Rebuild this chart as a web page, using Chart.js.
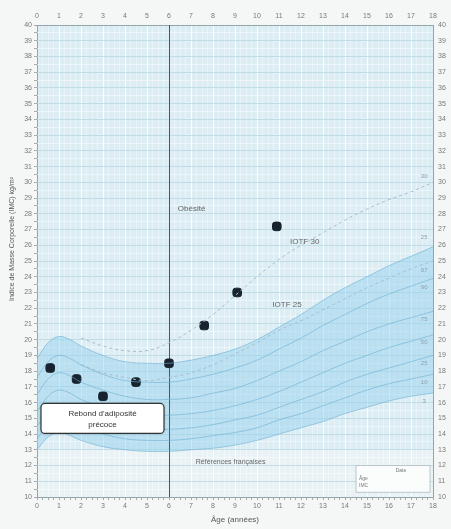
<!DOCTYPE html>
<html>
<head>
<meta charset="utf-8">
<script src="https://cdn.jsdelivr.net/npm/chart.js@4"></script>
<style>
  body { margin: 0; background: #f5f7f7; }
  #wrap { width: 451px; height: 529px; }
</style>
</head>
<body>
<div id="wrap"><canvas id="myChart" width="451" height="529"></canvas></div>
<script>
// reference curves (BMI by age)
const ages = [0, 0.5, 1, 1.5, 2, 3, 4, 5, 6, 7, 8, 9, 10, 11, 12, 13, 14, 15, 16, 17, 18];
const p97 = [18.8, 19.8, 20.2, 20.0, 19.6, 19.0, 18.6, 18.5, 18.5, 18.7, 19.0, 19.4, 20.0, 20.8, 21.6, 22.5, 23.3, 24.0, 24.7, 25.3, 25.9];
const p90 = [17.6, 18.6, 19.0, 18.8, 18.4, 17.8, 17.4, 17.3, 17.3, 17.5, 17.8, 18.2, 18.7, 19.4, 20.1, 20.9, 21.6, 22.3, 22.9, 23.4, 23.9];
const p75 = [16.5, 17.5, 17.9, 17.7, 17.3, 16.8, 16.4, 16.2, 16.2, 16.3, 16.6, 16.9, 17.4, 18.0, 18.6, 19.3, 19.9, 20.5, 21.0, 21.4, 21.8];
const p50 = [15.4, 16.4, 16.8, 16.6, 16.2, 15.7, 15.4, 15.2, 15.2, 15.3, 15.5, 15.8, 16.2, 16.7, 17.3, 17.9, 18.5, 19.0, 19.5, 19.9, 20.3];
const p25 = [14.5, 15.4, 15.8, 15.6, 15.2, 14.8, 14.5, 14.3, 14.3, 14.4, 14.6, 14.9, 15.2, 15.7, 16.2, 16.7, 17.3, 17.8, 18.2, 18.6, 19.0];
const p10 = [13.7, 14.6, 14.9, 14.7, 14.4, 14.0, 13.7, 13.6, 13.6, 13.7, 13.9, 14.1, 14.4, 14.9, 15.3, 15.8, 16.3, 16.8, 17.2, 17.5, 17.8];
const p3  = [13.0, 13.8, 14.1, 13.9, 13.6, 13.2, 13.0, 12.9, 12.9, 13.0, 13.1, 13.3, 13.6, 14.0, 14.4, 14.8, 15.3, 15.7, 16.1, 16.4, 16.6];

// IOTF cut-offs
const iotfAges = [2, 3, 4, 5, 6, 7, 8, 9, 10, 11, 12, 13, 14, 15, 16, 17, 18];
const iotf30 = [20.1, 19.6, 19.3, 19.3, 19.8, 20.6, 21.6, 22.8, 24.0, 25.1, 26.0, 26.8, 27.6, 28.3, 28.9, 29.4, 30.0];
const iotf25 = [18.4, 17.9, 17.6, 17.4, 17.6, 17.9, 18.4, 19.1, 19.8, 20.6, 21.2, 21.9, 22.6, 23.3, 23.9, 24.5, 25.0];

// child's measurements
const childAges = [0.6, 1.8, 3.0, 4.5, 6.0, 7.6, 9.1, 10.9];
const childBmi = [18.2, 17.5, 16.4, 17.3, 18.5, 20.9, 23.0, 27.2];

const pts = (xs, ys) => xs.map((x, i) => ({ x: x, y: ys[i] }));

const curveLine = (data, extra) => Object.assign({
  data: data,
  borderColor: "rgba(110,175,210,0.6)",
  borderWidth: 1,
  pointRadius: 0,
  tension: 0.4,
  fill: false,
}, extra || {});

const data = {
  datasets: [
    curveLine(pts(ages, p3)),
    curveLine(pts(ages, p10)),
    curveLine(pts(ages, p25)),
    curveLine(pts(ages, p50)),
    curveLine(pts(ages, p75)),
    curveLine(pts(ages, p90)),
    curveLine(pts(ages, p97), { fill: 0, backgroundColor: "rgba(150,210,238,0.5)" }),
    curveLine(pts(iotfAges, iotf25), { borderColor: "#a9bec8", borderDash: [3, 3] }),
    curveLine(pts(iotfAges, iotf30), { borderColor: "#a9bec8", borderDash: [3, 3] }),
    {
      data: pts(childAges, childBmi),
      showLine: false,
      pointStyle: "rectRounded",
      pointRadius: 5,
      pointBackgroundColor: "#17232f",
      pointBorderColor: "#17232f",
    },
  ],
};

const tickFont = { family: "Liberation Sans", size: 7 };
const intLabel = (v) => (Number.isInteger(v) ? String(v) : "");
const gridColX = (ctx) => {
  const v = ctx.tick.value;
  if (v === 0 || v === 18) return "#93a5ad";
  return Number.isInteger(v) ? "rgba(255,255,255,0.95)" : "rgba(255,255,255,0.4)";
};
const gridColY = (ctx) => {
  const v = ctx.tick.value;
  if (v === 10 || v === 40) return "#93a5ad";
  return Number.isInteger(v) ? "rgba(185,215,228,0.8)" : "rgba(255,255,255,0.45)";
};

// plugin - background, labels, notes
const decor = {
  id: "decor",
  beforeDraw(chart) {
    const { ctx, chartArea: a } = chart;
    ctx.save();
    ctx.fillStyle = "#f5f7f7";
    ctx.fillRect(0, 0, chart.width, chart.height);
    ctx.fillStyle = "#dcedf4";
    ctx.fillRect(a.left, a.top, a.right - a.left, a.bottom - a.top);
    const ys = chart.scales.y;
    ctx.fillStyle = "#e9f3f5";
    ctx.fillRect(a.left, ys.getPixelForValue(13), a.right - a.left, a.bottom - ys.getPixelForValue(13));
    ctx.restore();
  },
  beforeDatasetsDraw(chart) {
    // dark marker line at 6 years
    const { ctx, chartArea: a } = chart;
    const x6 = Math.round(chart.scales.x.getPixelForValue(6)) + 0.5;
    ctx.save();
    ctx.strokeStyle = "#555";
    ctx.lineWidth = 1;
    ctx.beginPath();
    ctx.moveTo(x6, a.top);
    ctx.lineTo(x6, a.bottom);
    ctx.stroke();
    ctx.restore();
  },
  afterDraw(chart) {
    const { ctx, chartArea: a, scales } = chart;
    const X = (v) => scales.x.getPixelForValue(v);
    const Y = (v) => scales.y.getPixelForValue(v);
    ctx.save();
    ctx.font = "8px Liberation Sans";
    ctx.fillStyle = "#666";
    ctx.textAlign = "left";
    ctx.textBaseline = "middle";
    ctx.fillText("Obésité", X(6.4), Y(28.3));
    ctx.fillText("IOTF 30", X(11.5), Y(26.2));
    ctx.fillText("IOTF 25", X(10.7), Y(22.2));
    ctx.textAlign = "center";
    ctx.font = "7px Liberation Sans";
    ctx.fillText("Références françaises", X(8.8), Y(12.2));

    // percentile labels at the right end
    ctx.font = "6px Liberation Sans";
    ctx.fillStyle = "#8aa0ab";
    [["30", 30.4], ["25", 26.5], ["97", 24.4], ["90", 23.3], ["75", 21.3], ["50", 19.8], ["25", 18.5], ["10", 17.3], ["3", 16.1]]
      .forEach(([t, v]) => ctx.fillText(t, X(17.6), Y(v)));

    // note box
    const bx = 41, by = Y(15.95), bw = 123, bh = 30;
    ctx.shadowColor = "rgba(0,0,0,0.25)";
    ctx.shadowBlur = 3;
    ctx.fillStyle = "#fff";
    ctx.beginPath();
    ctx.roundRect(bx, by, bw, bh, 4);
    ctx.fill();
    ctx.shadowBlur = 0;
    ctx.strokeStyle = "#333";
    ctx.lineWidth = 1.2;
    ctx.stroke();
    ctx.fillStyle = "#333";
    ctx.font = "8px Liberation Sans";
    ctx.fillText("Rebond d'adiposité", bx + bw / 2, by + 10);
    ctx.fillText("précoce", bx + bw / 2, by + 21);

    // small table bottom right
    const tx = X(14.5), ty = Y(12.0), tw = X(18) - 3 - tx, th = Y(10.3) - ty;
    ctx.fillStyle = "#fbfdfd";
    ctx.fillRect(tx, ty, tw, th);
    ctx.strokeStyle = "#b9c6cc";
    ctx.lineWidth = 1;
    ctx.strokeRect(tx, ty, tw, th);
    ctx.fillStyle = "#777";
    ctx.font = "5px Liberation Sans";
    ctx.fillText("Date", tx + tw / 2 + 8, ty + 5);
    ctx.textAlign = "left";
    ctx.fillText("Âge", tx + 3, ty + 13);
    ctx.fillText("IMC", tx + 3, ty + 20);

    // axis titles
    ctx.fillStyle = "#555";
    ctx.textAlign = "center";
    ctx.font = "8px Liberation Sans";
    ctx.fillText("Âge (années)", X(9), chart.height - 9);
    ctx.translate(12, (a.top + a.bottom) / 2 - 22);
    ctx.rotate(-Math.PI / 2);
    ctx.font = "7px Liberation Sans";
    ctx.fillText("Indice de Masse Corporelle (IMC) kg/m²", 0, 0);
    ctx.restore();
  },
};

const xAxis = (pos, h) => ({
  type: "linear",
  position: pos,
  min: 0,
  max: 18,
  grid: { color: gridColX, tickLength: 3, tickColor: "#aaa", display: pos === "bottom" },
  border: { display: false },
  ticks: { stepSize: 0.25, autoSkip: false, maxRotation: 0, callback: intLabel, font: tickFont, color: "#777", padding: 2 },
  afterFit: (s) => { s.height = h; },
});
const yAxis = (pos, w) => ({
  type: "linear",
  position: pos,
  min: 10,
  max: 40,
  grid: { color: gridColY, tickLength: 3, tickColor: "#aaa", display: pos === "left" },
  border: { display: false },
  ticks: { stepSize: 0.5, autoSkip: false, callback: intLabel, font: tickFont, color: "#777", padding: 2 },
  afterFit: (s) => { s.width = w; },
});

// config block
const config = {
  type: "line",
  data: data,
  options: {
    responsive: false,
    animation: false,
    layout: { padding: 0 },
    scales: {
      x: xAxis("bottom", 32),
      x2: xAxis("top", 25),
      y: yAxis("left", 37),
      y2: yAxis("right", 18),
    },
    plugins: {
      legend: { display: false },
      tooltip: { enabled: false },
      filler: { drawTime: "beforeDatasetsDraw" },
    },
  },
  plugins: [decor],
};

// render init block
const myChart = new Chart(document.getElementById("myChart"), config);
</script>
</body>
</html>
